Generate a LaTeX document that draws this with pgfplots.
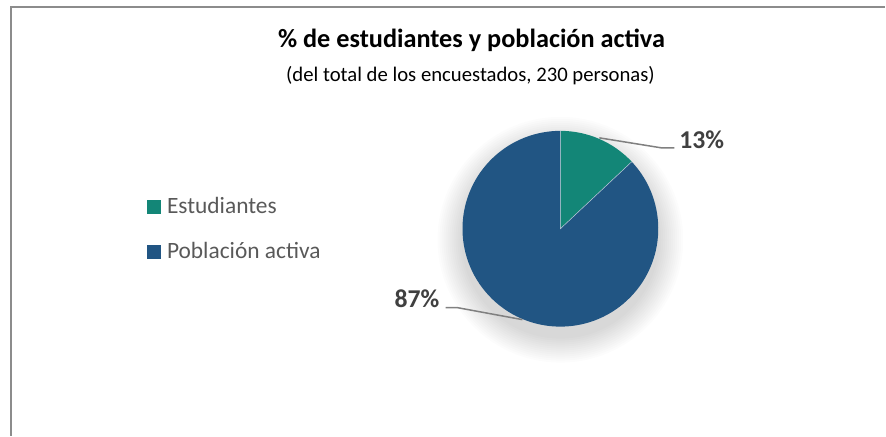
\documentclass[border=0pt]{standalone}
\usepackage{pgfplots}
\pgfplotsset{compat=1.18}
\usepackage{pgfplotstable}
\usetikzlibrary{calc}
\usepackage{fontspec}
\setmainfont{Carlito}
\definecolor{tealc}{HTML}{138677}
\definecolor{bluec}{HTML}{215583}
\definecolor{labc}{HTML}{404040}
\definecolor{legc}{HTML}{595959}
\definecolor{framec}{HTML}{8C8C8C}
\pgfplotstableread{
name value
Estudiantes 13
Poblacion 87
}\piedata
\pgfplotstablegetelem{0}{value}\of\piedata \let\va\pgfplotsretval
\pgfplotstablegetelem{1}{value}\of\piedata \let\vb\pgfplotsretval
\pgfmathsetmacro{\angA}{90-3.6*\va}
\pgfmathsetmacro{\angB}{\angA-3.6*\vb}
\begin{document}
\begin{tikzpicture}
\begin{axis}[width=886bp,height=436bp,scale only axis,hide axis,
  xmin=0,xmax=886,ymin=0,ymax=436,y dir=reverse,clip=false]
\path (axis cs:0,0) rectangle (axis cs:886,436);
% frame
\draw[framec,line width=2bp] (axis cs:11,436) -- (axis cs:11,7.5) -- (axis cs:886,7.5);
% title
\node[anchor=base,font=\bfseries\fontsize{26.4}{30}\selectfont] at (axis cs:472,48) {\% de estudiantes y población activa};
\node[anchor=base,font=\fontsize{20.8}{24}\selectfont] at (axis cs:471,82) {(del total de los encuestados, 230 personas)};
% shadow
\pgfplotsinvokeforeach{99,101,103,105,107,109,111,113,115,117,119,121,123}{
  \fill[black,opacity=0.011] (axis cs:561,240) circle[radius=#1bp];
}
% pie
\fill[tealc] (axis cs:561,229) -- (axis cs:561,131) arc[start angle=90,end angle=\angA,radius=98bp] -- cycle;
\fill[bluec] (axis cs:561,229) -- ($(axis cs:561,229)+(\angA:98bp)$) arc[start angle=\angA,end angle=\angB,radius=98bp] -- cycle;
\draw[white!70!bluec,line width=0.5bp] (axis cs:561,131) -- (axis cs:561,229) -- ($(axis cs:561,229)+(\angA:98bp)$);
% leader lines
\draw[gray,line width=1.5bp] (axis cs:600,138) -- (axis cs:662,148) -- (axis cs:675,148);
\draw[gray,line width=1.5bp] (axis cs:523,320) -- (axis cs:458,308) -- (axis cs:446,308);
% data labels
\node[anchor=base west,inner sep=0,text=labc,font=\bfseries\fontsize{25.8}{30}\selectfont] at (axis cs:680,149) {\va\%};
\node[anchor=base east,inner sep=0,text=labc,font=\bfseries\fontsize{25.8}{30}\selectfont] at (axis cs:440,308) {\vb\%};
% legend
\fill[tealc] (axis cs:147,200) rectangle (axis cs:161,214);
\fill[bluec] (axis cs:147,245) rectangle (axis cs:161,259);
\node[anchor=base west,inner sep=0,text=legc,font=\fontsize{23.5}{28}\selectfont] at (axis cs:167,214) {Estudiantes};
\node[anchor=base west,inner sep=0,text=legc,font=\fontsize{23.5}{28}\selectfont] at (axis cs:167,259) {Población activa};
\end{axis}
\end{tikzpicture}
\end{document}
